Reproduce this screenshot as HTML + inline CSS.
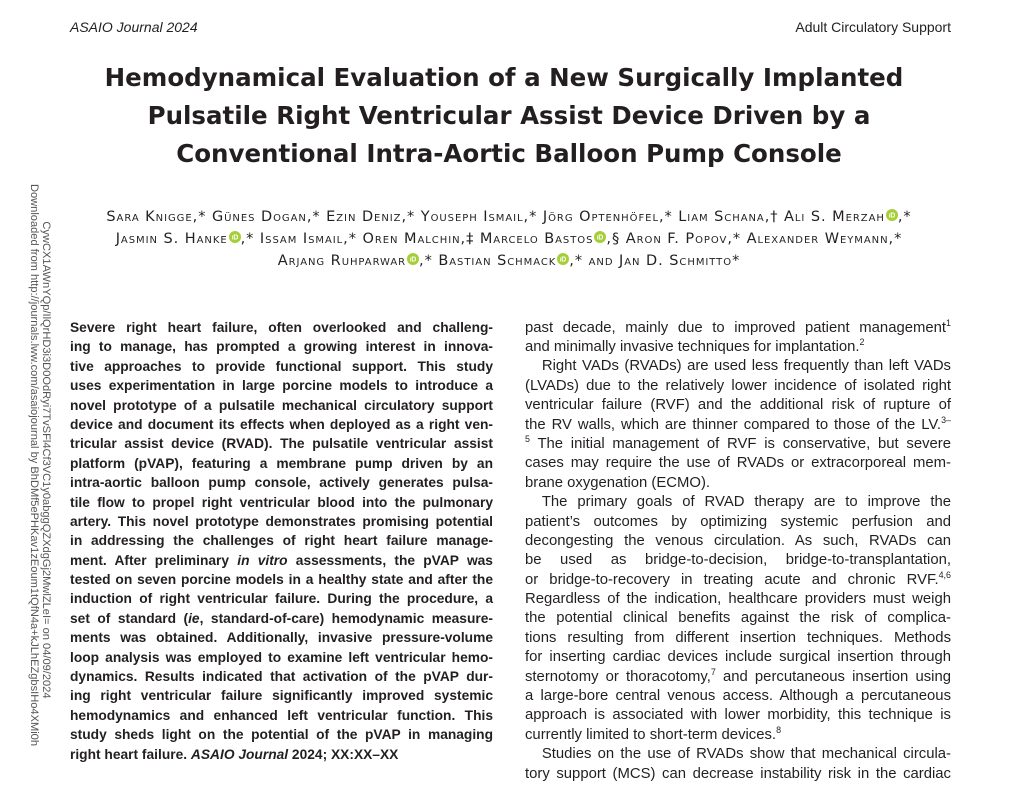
<!DOCTYPE html>
<html>
<head>
<meta charset="utf-8">
<style>
  html,body{margin:0;padding:0;background:#fff;}
  body{width:1024px;height:777px;position:relative;overflow:hidden;color:#231f20;}
  .abs{position:absolute;}
  .hdr{font-family:"Liberation Sans",sans-serif;font-size:14px;line-height:16px;top:19px;white-space:nowrap;}
  .title{left:0;width:1018px;top:58.5px;text-align:center;font-family:"DejaVu Sans","Liberation Sans",sans-serif;font-weight:bold;font-size:24.5px;line-height:38px;white-space:nowrap;}
  .auth{left:0;width:1018px;top:206px;text-align:center;font-family:"DejaVu Sans","Liberation Sans",sans-serif;font-size:14.5px;letter-spacing:0.95px;line-height:22px;font-variant:small-caps;white-space:nowrap;}
  .orc{display:inline-block;vertical-align:0;margin-left:1px;}
  .col{position:absolute;width:430px;transform-origin:0 0;font-family:"Liberation Sans",sans-serif;line-height:19.4px;}
  .left{left:70px;top:318px;font-size:14px;font-weight:bold;transform:scaleX(0.9837);}
  .right{left:525px;top:317.6px;font-size:15px;transform:scaleX(0.9907);}
  .col div{height:19.4px;}
  .j{text-align:justify;text-align-last:justify;}
  .l{text-align:left;}
  .ind{text-indent:17px;}
  .sup{font-size:9px;position:relative;top:-6px;line-height:0;}
  .wm{position:absolute;width:640px;height:12px;font-family:"Liberation Sans",sans-serif;font-size:11.1px;line-height:12px;color:#555;text-align:center;white-space:nowrap;transform:rotate(90deg);transform-origin:50% 50%;}
</style>
</head>
<body>

<div class="abs hdr" style="left:70px;font-style:italic;">ASAIO Journal 2024</div>
<div class="abs hdr" style="right:73px;">Adult Circulatory Support</div>

<div class="abs title">
  <div style="position:relative;left:-5px;">Hemodynamical Evaluation of a New Surgically Implanted</div>
  <div>Pulsatile Right Ventricular Assist Device Driven by a</div>
  <div>Conventional Intra-Aortic Balloon Pump Console</div>
</div>

<div class="abs auth">
  <div>Sara Knigge,* Günes Dogan,* Ezin Deniz,* Youseph Ismail,* Jörg Optenhöfel,* Liam Schana,† Ali S. Merzah<svg class="orc" width="12" height="12" viewBox="0 0 12 12"><circle cx="6" cy="6" r="6" fill="#a6ce39"/><text x="6.1" y="8.6" font-family="Liberation Sans" font-size="7" font-weight="bold" fill="#fff" text-anchor="middle" letter-spacing="0">iD</text></svg>,*</div>
  <div>Jasmin S. Hanke<svg class="orc" width="12" height="12" viewBox="0 0 12 12"><circle cx="6" cy="6" r="6" fill="#a6ce39"/><text x="6.1" y="8.6" font-family="Liberation Sans" font-size="7" font-weight="bold" fill="#fff" text-anchor="middle" letter-spacing="0">iD</text></svg>,* Issam Ismail,* Oren Malchin,‡ Marcelo Bastos<svg class="orc" width="12" height="12" viewBox="0 0 12 12"><circle cx="6" cy="6" r="6" fill="#a6ce39"/><text x="6.1" y="8.6" font-family="Liberation Sans" font-size="7" font-weight="bold" fill="#fff" text-anchor="middle" letter-spacing="0">iD</text></svg>,§ Aron F. Popov,* Alexander Weymann,*</div>
  <div>Arjang Ruhparwar<svg class="orc" width="12" height="12" viewBox="0 0 12 12"><circle cx="6" cy="6" r="6" fill="#a6ce39"/><text x="6.1" y="8.6" font-family="Liberation Sans" font-size="7" font-weight="bold" fill="#fff" text-anchor="middle" letter-spacing="0">iD</text></svg>,* Bastian Schmack<svg class="orc" width="12" height="12" viewBox="0 0 12 12"><circle cx="6" cy="6" r="6" fill="#a6ce39"/><text x="6.1" y="8.6" font-family="Liberation Sans" font-size="7" font-weight="bold" fill="#fff" text-anchor="middle" letter-spacing="0">iD</text></svg>,* and Jan D. Schmitto*</div>
</div>

<div class="wm" style="left:-286px;top:459px;">Downloaded from http://journals.lww.com/asaiojournal by BhDMf5ePHKav1zEoum1tQfN4a+kJLhEZgbsIHo4XMi0h</div>
<div class="wm" style="left:-274px;top:454px;">CywCX1AWnYQp/IlQrHD3i3D0OdRyi7TvSFl4Cf3VC1y0abggQZXdgGj2MwlZLeI= on 04/09/2024</div>

<div class="col left">
  <div class="j">Severe right heart failure, often overlooked and challeng-</div>
  <div class="j">ing to manage, has prompted a growing interest in innova-</div>
  <div class="j">tive approaches to provide functional support. This study</div>
  <div class="j">uses experimentation in large porcine models to introduce a</div>
  <div class="j">novel prototype of a pulsatile mechanical circulatory support</div>
  <div class="j">device and document its effects when deployed as a right ven-</div>
  <div class="j">tricular assist device (RVAD). The pulsatile ventricular assist</div>
  <div class="j">platform (pVAP), featuring a membrane pump driven by an</div>
  <div class="j">intra-aortic balloon pump console, actively generates pulsa-</div>
  <div class="j">tile flow to propel right ventricular blood into the pulmonary</div>
  <div class="j">artery. This novel prototype demonstrates promising potential</div>
  <div class="j">in addressing the challenges of right heart failure manage-</div>
  <div class="j">ment. After preliminary <i>in vitro</i> assessments, the pVAP was</div>
  <div class="j">tested on seven porcine models in a healthy state and after the</div>
  <div class="j">induction of right ventricular failure. During the procedure, a</div>
  <div class="j">set of standard (<i>ie</i>, standard-of-care) hemodynamic measure-</div>
  <div class="j">ments was obtained. Additionally, invasive pressure-volume</div>
  <div class="j">loop analysis was employed to examine left ventricular hemo-</div>
  <div class="j">dynamics. Results indicated that activation of the pVAP dur-</div>
  <div class="j">ing right ventricular failure significantly improved systemic</div>
  <div class="j">hemodynamics and enhanced left ventricular function. This</div>
  <div class="j">study sheds light on the potential of the pVAP in managing</div>
  <div class="l">right heart failure. <i>ASAIO Journal</i> 2024; XX:XX–XX</div>
</div>

<div class="col right">
  <div class="j">past decade, mainly due to improved patient management<span class="sup">1</span></div>
  <div class="l">and minimally invasive techniques for implantation.<span class="sup">2</span></div>
  <div class="j ind">Right VADs (RVADs) are used less frequently than left VADs</div>
  <div class="j">(LVADs) due to the relatively lower incidence of isolated right</div>
  <div class="j">ventricular failure (RVF) and the additional risk of rupture of</div>
  <div class="j">the RV walls, which are thinner compared to those of the LV.<span class="sup">3–</span></div>
  <div class="j"><span class="sup">5</span> The initial management of RVF is conservative, but severe</div>
  <div class="j">cases may require the use of RVADs or extracorporeal mem-</div>
  <div class="l">brane oxygenation (ECMO).</div>
  <div class="j ind">The primary goals of RVAD therapy are to improve the</div>
  <div class="j">patient’s outcomes by optimizing systemic perfusion and</div>
  <div class="j">decongesting the venous circulation. As such, RVADs can</div>
  <div class="j">be used as bridge-to-decision, bridge-to-transplantation,</div>
  <div class="j">or bridge-to-recovery in treating acute and chronic RVF.<span class="sup">4,6</span></div>
  <div class="j">Regardless of the indication, healthcare providers must weigh</div>
  <div class="j">the potential clinical benefits against the risk of complica-</div>
  <div class="j">tions resulting from different insertion techniques. Methods</div>
  <div class="j">for inserting cardiac devices include surgical insertion through</div>
  <div class="j">sternotomy or thoracotomy,<span class="sup">7</span> and percutaneous insertion using</div>
  <div class="j">a large-bore central venous access. Although a percutaneous</div>
  <div class="j">approach is associated with lower morbidity, this technique is</div>
  <div class="l">currently limited to short-term devices.<span class="sup">8</span></div>
  <div class="j ind">Studies on the use of RVADs show that mechanical circula-</div>
  <div class="j">tory support (MCS) can decrease instability risk in the cardiac</div>
</div>

</body>
</html>
